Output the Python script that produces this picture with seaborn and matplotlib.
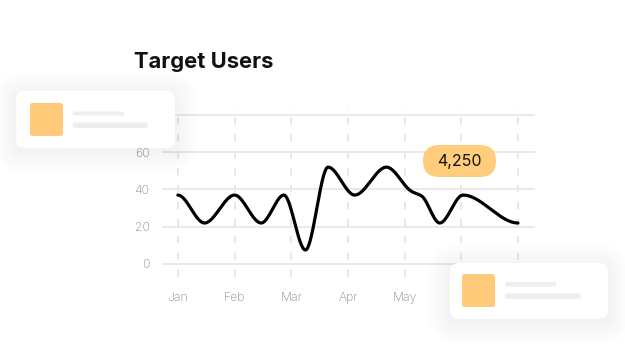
import numpy as np
import pandas as pd
import matplotlib
matplotlib.use("Agg")
import matplotlib.pyplot as plt
import seaborn as sns
from matplotlib.patches import FancyBboxPatch
from matplotlib.transforms import IdentityTransform

# ---- data ----
months = ["Jan", "Feb", "Mar", "Apr", "May", "Jun", "Jul"]
y_ticks = [0, 20, 40, 60, 80]
y_tick_labels = ["0", "20", "40", "60", "80"]
# key points of the curve (x in months from Jan, value)
point_x = [0.0, 0.47, 1.0, 1.47, 1.87, 2.25, 2.65, 3.12, 3.68, 4.12, 4.30, 4.62, 5.03, 6.0]
point_y = [37, 22, 37, 22, 37, 7.5, 52, 37, 52, 39, 36.5, 22, 37, 22]
badge_text = "4,250"
title = "Target Users"

W, H = 625, 350
sns.set_theme(style="white")
plt.rcParams["font.family"] = ["Inter", "DejaVu Sans"]
plt.rcParams["lines.scale_dashes"] = False


def smooth(xk, yk, n=600):
    """Monotone cubic Hermite (Fritsch-Carlson) for drawing a smooth line."""
    xk = np.asarray(xk, float)
    yk = np.asarray(yk, float)
    h = np.diff(xk)
    d = np.diff(yk) / h
    m = np.zeros_like(yk)
    for i in range(1, len(xk) - 1):
        if d[i - 1] * d[i] > 0:
            w1 = 2 * h[i] + h[i - 1]
            w2 = h[i] + 2 * h[i - 1]
            m[i] = (w1 + w2) / (w1 / d[i - 1] + w2 / d[i])
    xs = np.linspace(xk[0], xk[-1], n)
    idx = np.clip(np.searchsorted(xk, xs) - 1, 0, len(h) - 1)
    t = (xs - xk[idx]) / h[idx]
    h00 = 2 * t**3 - 3 * t**2 + 1
    h10 = t**3 - 2 * t**2 + t
    h01 = -2 * t**3 + 3 * t**2
    h11 = t**3 - t**2
    ys = (h00 * yk[idx] + h10 * h[idx] * m[idx] + h01 * yk[idx + 1]
          + h11 * h[idx] * m[idx + 1])
    return xs, ys


fig = plt.figure(figsize=(W / 100, H / 100), dpi=100)
fig.patch.set_facecolor("white")

# axes box in pixels: left 162, right 535, top 107, bottom 277
L, R, T, B = 162, 535, 107, 277
ax = fig.add_axes([L / W, (H - B) / H, (R - L) / W, (B - T) / H])

xs, ys = smooth(point_x, point_y)
df = pd.DataFrame({"x": xs, "y": ys})
sns.lineplot(data=df, x="x", y="y", ax=ax, color="black", linewidth=2.3,
             estimator=None, sort=False, zorder=5)
ax.lines[-1].set_solid_capstyle("round")

ax.set_xlim(-0.28, 6.3)
ax.set_ylim(-7, 84.3)
ax.set_xticks(range(len(months)))
ax.set_xticklabels(months)
ax.set_yticks(y_ticks)
ax.set_yticklabels(y_tick_labels)
ax.set_xlabel("")
ax.set_ylabel("")
for s in ax.spines.values():
    s.set_visible(False)
ax.tick_params(axis="both", length=0, colors="#8c8c8c", labelsize=8.8)
ax.tick_params(axis="y", pad=9)
ax.tick_params(axis="x", pad=11)
for lab in ax.get_xticklabels() + ax.get_yticklabels():
    lab.set_fontweight("light")
ax.yaxis.grid(True, color="#e9e9e9", linewidth=1.4, linestyle="-")
ax.xaxis.grid(True, color="#e0e0e0", linewidth=1.1, linestyle=(0, (5.2, 7.0)))
ax.set_axisbelow(True)
ax.set_facecolor("none")

# title
fig.text(134 / W, (H - 67.5) / H, title, fontsize=15.8, fontweight="bold",
         color="#111111", ha="left", va="baseline")

ID = IdentityTransform()


def rbox(x0, y0, x1, y1, r, color, alpha=1.0, z=2):
    p = FancyBboxPatch((x0, H - y1), x1 - x0, y1 - y0,
                       boxstyle=f"round,pad=0,rounding_size={r}",
                       transform=ID, facecolor=color, edgecolor="none",
                       alpha=alpha, zorder=z)
    fig.add_artist(p)


def card(x0, y0, x1, y1, sq, l1, l2):
    # soft shadow
    for i in range(12):
        s = 1 + i * 2.0
        rbox(x0 - s, y0 - s + 3, x1 + s, y1 + s + 3, 9 + s, "black", alpha=0.0035, z=2)
    rbox(x0, y0, x1, y1, 9, "white", z=3)
    rbox(*sq, 2.5, "#ffca7a", z=4)
    rbox(*l1, 2, "#eeeeee", z=4)
    rbox(*l2, 2.6, "#eeeeee", z=4)


card(16, 91, 175, 148, (30, 103, 63, 136), (72.5, 111.5, 124, 115.5),
     (72.5, 122.5, 148, 128))
card(450, 263, 608, 319, (462, 274, 495, 307), (505, 282, 556, 286.5),
     (505, 293.5, 581, 299))

# badge
rbox(423, 145, 496, 177, 16, "#ffcd7c", z=4)
fig.text(459.5 / W, (H - 161.5) / H, badge_text, fontsize=11.5, color="#111111",
         ha="center", va="center", zorder=5)

fig.savefig("out.png", dpi=100, facecolor="white")
